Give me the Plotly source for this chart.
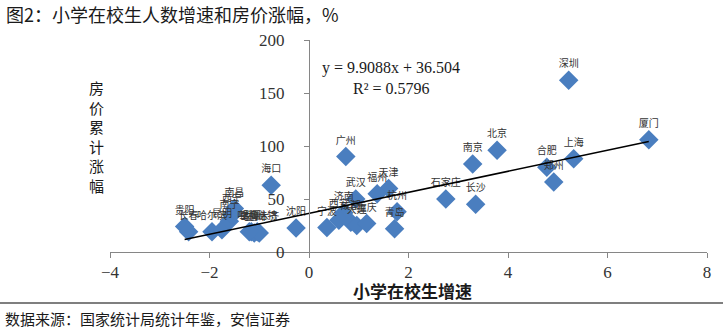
import plotly.graph_objects as go

# ---- data ----
cities = ["深圳", "厦门", "上海", "合肥", "郑州", "北京", "南京", "长沙", "石家庄", "广州",
          "天津", "福州", "武汉", "杭州", "青岛", "济南", "西安", "宁波", "成都", "大连", "重庆",
          "贵阳", "长春", "哈尔滨", "昆明", "南宁", "南昌", "西宁", "太原", "呼和浩特", "兰州",
          "乌鲁木齐", "银川", "海口", "沈阳"]
pupil_growth = [5.22, 6.83, 5.32, 4.78, 4.92, 3.78, 3.29, 3.35, 2.75, 0.74,
                1.60, 1.37, 0.94, 1.77, 1.72, 0.70, 0.60, 0.36, 0.84, 0.96, 1.16,
                -2.50, -2.42, -1.95, -1.75, -1.60, -1.50, -1.55, -1.16, -1.04, -1.10,
                -1.00, -1.20, -0.76, -0.26]
price_rise = [162, 106, 88, 80, 66, 96, 83, 45, 50, 90,
              60, 55, 50, 38, 22, 37, 30, 23, 28, 25, 27,
              24, 19, 19, 21, 29, 41, 35, 19, 19, 18,
              18, 19, 63, 22.6]
slope, intercept, r2 = 9.9088, 36.504, 0.5796
x_ticks = [-4, -2, 0, 2, 4, 6, 8]
y_ticks = [0, 50, 100, 150, 200]

title = "图2：小学在校生人数增速和房价涨幅，%"
source = "数据来源：国家统计局统计年鉴，安信证券"
x_title = "小学在校生增速"
y_title = "房价累计涨幅"

W, H = 723, 330
L, R, T, B = 110, 16, 40, 78
PW, PH = W - L - R, H - T - B

def px(xp):
    return (xp - L) / PW

def py(yp):
    return (H - B - yp) / PH

CJK = "Noto Sans CJK SC"
SERIF = "Liberation Serif"

fig = go.Figure()
fig.add_trace(go.Scatter(
    x=pupil_growth, y=price_rise, mode="markers+text", text=cities,
    textposition="top center",
    textfont=dict(family=CJK, size=10, color="#333333"),
    marker=dict(symbol="diamond", size=15, color="#4A7EBF", line=dict(width=0)),
    showlegend=False, cliponaxis=False,
))
xmin, xmax = min(pupil_growth), max(pupil_growth)
fig.add_trace(go.Scatter(
    x=[xmin, xmax], y=[slope * xmin + intercept, slope * xmax + intercept],
    mode="lines", line=dict(color="black", width=1.5), showlegend=False,
))

fig.update_layout(
    width=W, height=H, margin=dict(l=L, r=R, t=T, b=B),
    paper_bgcolor="white", plot_bgcolor="white",
    xaxis=dict(range=[-4, 8], tickvals=x_ticks, showgrid=False, zeroline=False,
               showline=True, linecolor="#868686", linewidth=1, ticks="outside",
               ticklen=5, tickcolor="#868686",
               tickfont=dict(family=SERIF, size=17, color="#333333")),
    yaxis=dict(range=[0, 200], tickvals=y_ticks, showgrid=False, zeroline=False,
               showline=True, linecolor="#868686", linewidth=1, ticks="outside",
               ticklen=5, tickcolor="#868686", anchor="free", position=1/3,
               ticklabelstandoff=16,
               tickfont=dict(family=SERIF, size=17, color="#333333")),
    annotations=[
        dict(text=title, x=px(4), y=py(14), xref="paper", yref="paper",
             xanchor="left", yanchor="middle", showarrow=False,
             font=dict(family=CJK, size=18, color="#1a1a1a")),
        dict(text=source, x=px(3), y=py(318), xref="paper", yref="paper",
             xanchor="left", yanchor="middle", showarrow=False,
             font=dict(family=CJK, size=15, color="#1a1a1a")),
        dict(text="<b>" + x_title + "</b>", x=px(412), y=py(290), xref="paper", yref="paper",
             xanchor="center", yanchor="middle", showarrow=False,
             font=dict(family=CJK, size=17, color="#1a1a1a")),
        dict(text="<br>".join(y_title), x=px(96), y=py(136), xref="paper", yref="paper",
             xanchor="center", yanchor="middle", showarrow=False,
             font=dict(family=CJK, size=15, color="#1a1a1a")),
        dict(text=f"y = {slope}x + {intercept}", x=1.65, y=174, xref="x", yref="y",
             xanchor="center", yanchor="middle", showarrow=False,
             font=dict(family=SERIF, size=16, color="#1a1a1a")),
        dict(text=f"R² = {r2}", x=1.65, y=154, xref="x", yref="y",
             xanchor="center", yanchor="middle", showarrow=False,
             font=dict(family=SERIF, size=16, color="#1a1a1a")),
    ],
    shapes=[
        dict(type="line", xref="paper", yref="paper", x0=px(0), x1=px(W), y0=py(303), y1=py(303),
             line=dict(color="#555555", width=1.5)),
    ],
)

fig.write_html("out.html")
